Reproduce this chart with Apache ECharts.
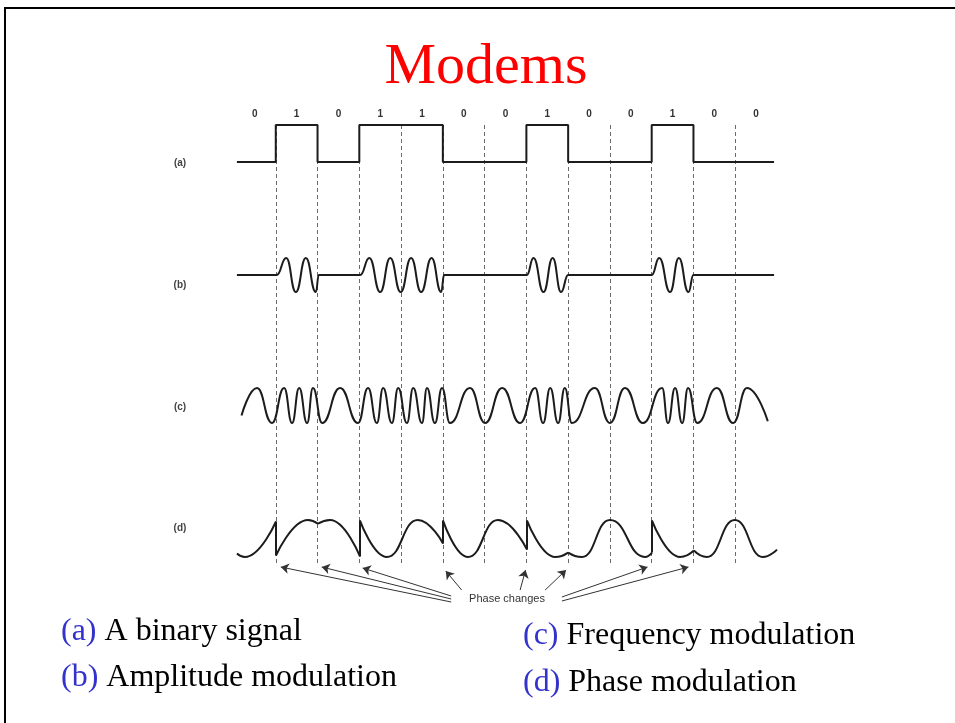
<!DOCTYPE html>
<html>
<head>
<meta charset="utf-8">
<title>Modems</title>
<script src="https://cdn.jsdelivr.net/npm/echarts@6/dist/echarts.min.js"></script>
<style>
html, body { margin: 0; padding: 0; background: #fff; }
#chart { width: 955px; height: 723px; }
</style>
</head>
<body>
<div id="chart"></div>
<script>
// bits carried by the signal
var bits = ['0', '1', '0', '1', '1', '0', '0', '1', '0', '0', '1', '0', '0'];
var rowNames = ['(a)', '(b)', '(c)', '(d)'];
var captionTags = ['(a)', '(b)', '(c)', '(d)'];
var captionTexts = ['A binary signal', 'Amplitude modulation', 'Frequency modulation', 'Phase modulation'];

// (a) the level trace starts/ends a little inside the first/last bit
var traceStart = 0.07, traceEnd = 12.93;

// (b) amplitude modulation: [time in bits, amplitude] at each turning point
var amWave = [
    [0.07, 0], [1.02, 0], [1.25, 1], [1.48, -1], [1.72, 1], [1.96, -1], [2.03, 0],
    [3.02, 0], [3.24, 1], [3.5, -1], [3.74, 1], [3.99, -1], [4.24, 1], [4.48, -1], [4.73, 1], [4.96, -1], [5.03, 0],
    [7.01, 0], [7.17, 1], [7.41, -1], [7.63, 1], [7.83, -1], [8.0, 0],
    [10.0, 0], [10.18, 1], [10.44, -1], [10.65, 1], [10.88, -1], [11.0, 0],
    [12.93, 0]
];

// (c) frequency modulation: turning points
var fmWave = [
    [0.18, -0.57], [0.55, 1], [0.91, -1],
    [1.2, 1], [1.39, -1], [1.56, 1], [1.75, -1], [1.89, 1], [2.11, -1],
    [2.54, 1], [2.97, -1],
    [3.21, 1], [3.42, -1], [3.57, 1], [3.78, -1], [3.93, 1], [4.14, -1], [4.29, 1], [4.5, -1], [4.62, 1], [4.81, -1], [4.98, 1], [5.17, -1],
    [5.65, 1], [6.01, -1], [6.42, 1], [6.85, -1],
    [7.21, 1], [7.4, -1], [7.57, 1], [7.76, -1], [7.92, 1], [8.09, -1],
    [8.64, 1], [9.0, -1], [9.36, 1], [9.79, -1],
    [10.25, 1], [10.39, -1], [10.56, 1], [10.73, -1], [10.87, 1], [11.09, -1],
    [11.56, 1], [11.95, -1], [12.28, 1], [12.78, -0.9]
];

// (d) phase modulation: one piece between each phase jump or cusp
var pmPieces = [
    [[0.07, -0.81], [0.26, -1], [1.005, 0.92]],
    [[1.005, -0.92], [1.77, 1], [2.01, 0.8]],
    [[2.01, 0.8], [2.3, 1], [3.016, -0.97]],
    [[3.016, 0.97], [3.66, -1], [4.4, 1], [5.004, -0.27]],
    [[5.004, 0.97], [5.6, -1], [6.32, 1], [7.015, -0.6]],
    [[7.015, 0.97], [7.69, -1], [8.0, -0.76]],
    [[8.0, -0.76], [8.33, -1], [9.0, 1], [9.84, -1], [10.007, -0.76]],
    [[10.007, 0.97], [10.68, -1], [11.01, -0.65]],
    [[11.01, -0.65], [11.32, -1], [11.99, 1], [12.66, -1], [13.0, -0.6]]
];

var ink = '#1c1c1c';
var sans = 'Liberation Sans';
var serif = 'Liberation Serif';

// square wave from the bits
var squareWave = [];
bits.forEach(function (b, i) {
    var v = +b;
    squareWave.push([Math.max(i, traceStart), v], [Math.min(i + 1, traceEnd), v]);
});

// vertical jumps in (d) where the phase flips
var pmJumps = [];
for (var p = 1; p < pmPieces.length; p++) {
    var end = pmPieces[p - 1][pmPieces[p - 1].length - 1];
    var start = pmPieces[p][0];
    if (end[1] !== start[1]) pmJumps.push({coords: [end, start]});
}

// dashed bit boundaries (overlay y counts pixels below y=100)
var dashes = [];
for (var k = 1; k < bits.length; k++) {
    dashes.push({coords: [[k, 25], [k, 464]]});
}

// arrows from the "Phase changes" label to each bit change
var phaseEdges = [];
for (var j = 1; j < bits.length; j++) {
    if (bits[j] !== bits[j - 1]) phaseEdges.push(j);
}
var tails = [[5.2, 502], [5.2, 499], [5.2, 496], [5.45, 490], [6.85, 490], [7.45, 490], [7.85, 497], [7.85, 501]];
var tipShift = [0.12, 0.1, 0.08, 0.07, -0.02, -0.05, -0.1, -0.12];
var tipY = [467, 467, 468, 471, 470, 470, 467, 467];
var arrows = phaseEdges.map(function (e, i) {
    return {coords: [tails[i], [e + tipShift[i], tipY[i]]]};
});

var chart = echarts.init(document.getElementById('chart'));

function hiddenX(idx) {
    return {type: 'value', gridIndex: idx, min: 0, max: 13, show: false};
}
function hiddenY(idx, mn, mx, inv) {
    return {type: 'value', gridIndex: idx, min: mn, max: mx, inverse: !!inv, show: false};
}
function wave(name, idx, data, smooth) {
    return {
        name: name, type: 'line', xAxisIndex: idx, yAxisIndex: idx, data: data,
        smooth: smooth, smoothMonotone: 'x', showSymbol: false, symbol: 'none',
        clip: false, silent: true, z: 5,
        lineStyle: {color: ink, width: 2}
    };
}

var series = [
    {
        type: 'lines', coordinateSystem: 'cartesian2d', xAxisIndex: 4, yAxisIndex: 4,
        data: dashes, silent: true, z: 1, symbol: 'none',
        lineStyle: {color: '#6a6a6a', width: 1, type: [4, 3], opacity: 1}
    },
    {
        type: 'lines', coordinateSystem: 'cartesian2d', xAxisIndex: 4, yAxisIndex: 4,
        data: arrows, silent: true, z: 6, symbol: ['none', 'arrow'], symbolSize: 8,
        lineStyle: {color: '#333', width: 1, opacity: 1}
    },
    wave('binary', 0, squareWave, false),
    wave('am', 1, amWave, 0.5),
    wave('fm', 2, fmWave, 0.5)
];
pmPieces.forEach(function (piece, i) {
    series.push(wave('pm' + i, 3, piece, 0.5));
});
series.push({
    type: 'lines', coordinateSystem: 'cartesian2d', xAxisIndex: 3, yAxisIndex: 3,
    data: pmJumps, silent: true, z: 5, symbol: 'none',
    lineStyle: {color: ink, width: 2, opacity: 1}
});

var graphics = [
    {type: 'rect', z: 0, shape: {x: 5, y: 8, width: 1000, height: 800},
        style: {fill: 'none', stroke: '#000', lineWidth: 2}},
    {type: 'text', x: 486, y: 68, style: {text: 'Modems', fill: '#ff0000',
        font: 'normal 58px "' + serif + '"', textAlign: 'center', textVerticalAlign: 'middle'}},
    {type: 'text', x: 507, y: 599, style: {text: 'Phase changes', fill: '#333',
        font: 'normal 11px "' + sans + '"', textAlign: 'center', textVerticalAlign: 'middle'}}
];
var rowY = [163, 285, 407, 528];
rowNames.forEach(function (n, i) {
    graphics.push({type: 'text', x: 180, y: rowY[i], style: {text: n, fill: '#444',
        font: 'bold 10px "' + sans + '"', textAlign: 'center', textVerticalAlign: 'middle'}});
});
var capPos = [[61, 632], [61, 678], [523, 636], [523, 683]];
captionTexts.forEach(function (t, i) {
    graphics.push({type: 'text', x: capPos[i][0], y: capPos[i][1], style: {
        text: '{p|' + captionTags[i] + '}{t| ' + t + '}',
        textAlign: 'left', textVerticalAlign: 'middle',
        font: 'normal 32px "' + serif + '"',
        rich: {
            p: {fill: '#3333cc', fontSize: 32, fontFamily: serif},
            t: {fill: '#000', fontSize: 32, fontFamily: serif}
        }
    }});
});

chart.setOption({
    animation: false,
    backgroundColor: '#fff',
    grid: [
        {left: 234, width: 543, top: 125, height: 37},
        {left: 234, width: 543, top: 258, height: 34},
        {left: 234, width: 543, top: 388, height: 35},
        {left: 234, width: 543, top: 520, height: 37},
        {left: 234, width: 543, top: 100, height: 510}
    ],
    xAxis: [
        hiddenX(0), hiddenX(1), hiddenX(2), hiddenX(3), hiddenX(4),
        {
            type: 'category', gridIndex: 0, position: 'top', data: bits, boundaryGap: true,
            axisLine: {show: false}, axisTick: {show: false}, splitLine: {show: false},
            axisLabel: {interval: 0, margin: 6, fontSize: 10, fontWeight: 'bold', color: '#333', fontFamily: sans}
        }
    ],
    yAxis: [
        hiddenY(0, 0, 1), hiddenY(1, -1, 1), hiddenY(2, -1, 1), hiddenY(3, -1, 1), hiddenY(4, 0, 510, true)
    ],
    series: series,
    graphic: graphics
});
</script>
</body>
</html>
